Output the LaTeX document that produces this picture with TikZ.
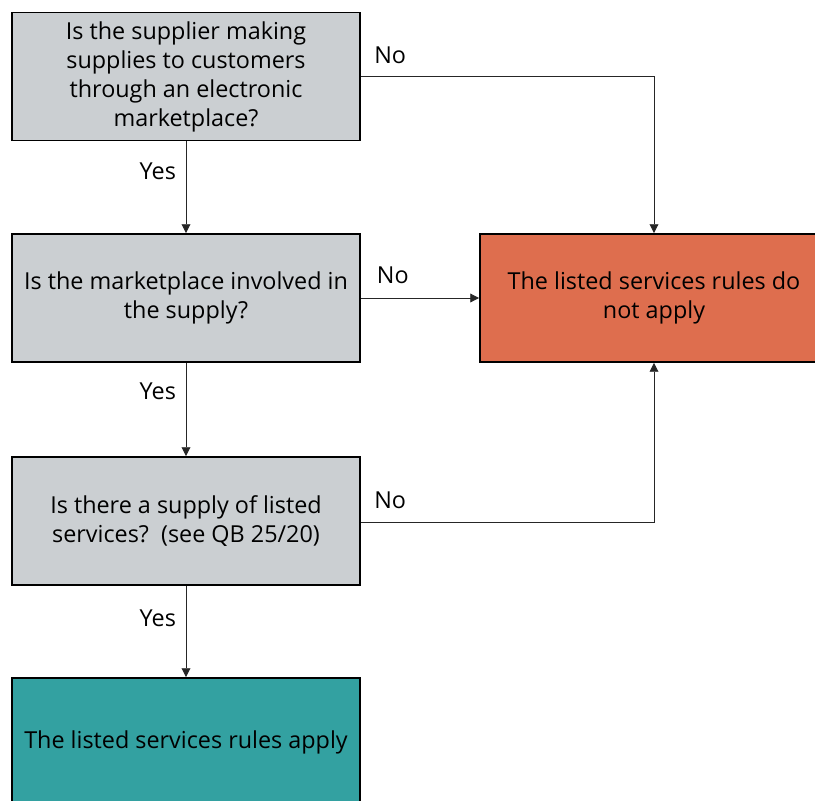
\documentclass[tikz,border=0pt]{standalone}
\usepackage{fontspec}
\setmainfont{Open Sans}
\usepackage{xcolor}
\usetikzlibrary{arrows.meta, positioning}

\definecolor{qgrey}{HTML}{CBCFD2}
\definecolor{nored}{HTML}{DE6E4E}
\definecolor{yesteal}{HTML}{33A1A1}

\tikzset{
    qbox/.style={draw=black, line width=1.1pt, fill=qgrey, minimum width=6.96cm,
        minimum height=2.56cm, align=center, font={\fontsize{13.3}{16.5}\selectfont}},
    conn/.style={draw=black!85, line width=0.5pt, -{Triangle[length=5pt, width=5pt]}},
    lbl/.style={font={\fontsize{13.3}{15}\selectfont}, inner sep=0pt}
}

\begin{document}
\begin{tikzpicture}[x=0.02cm, y=-0.02cm]
    \useasboundingbox (0,0) rectangle (815,801);
    \clip (0,0) rectangle (815,801);

    \node [qbox] (Qmarket) at (186, 76.5) {Is the supplier making\\supplies to customers\\through an electronic\\marketplace?};
    \node [qbox] (Qinvolved) at (186, 298) {Is the marketplace involved in\\the supply?};
    \node [qbox] (Qlisted) at (186, 521) {Is there a supply of listed\\services?~~(see QB 25/20)};
    \node [qbox, fill=yesteal] (Rapply) at (186, 742) {The listed services rules apply};
    \node [qbox, fill=nored] (Rnot) at (654, 298) {The listed services rules do\\not apply};

    \draw [conn] (Qmarket) -- node [lbl, pos=0.33, left=5.5pt] (Ya) {Yes} (Qinvolved);
    \draw [conn] (Qinvolved) -- node [lbl, pos=0.3, left=5.5pt] (Yb) {Yes} (Qlisted);
    \draw [conn] (Qlisted) -- node [lbl, pos=0.35, left=5.5pt] (Yc) {Yes} (Rapply);

    \draw [conn] (Qmarket.east) -| node [lbl, pos=0.05, above=7pt] (Na) {No} (Rnot.north);
    \draw [conn] (Qinvolved.east) -- node [lbl, pos=0.27, above=8pt] (Nb) {No} (Rnot.west);
    \draw [conn] ([yshift=-1pt]Qlisted.east) -| node [lbl, pos=0.05, above=8pt] (Nc) {No} (Rnot.south);
\end{tikzpicture}
\end{document}
